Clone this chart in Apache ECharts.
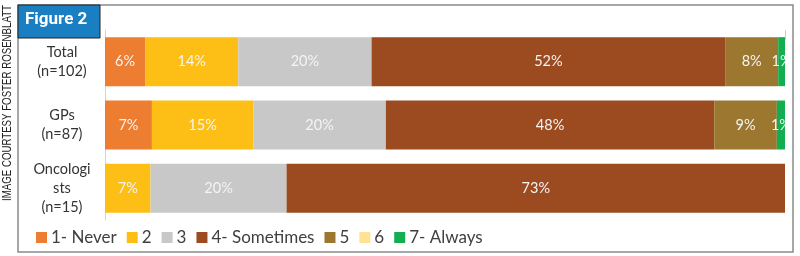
<!DOCTYPE html>
<html><head><meta charset="utf-8">
<script src="https://cdn.jsdelivr.net/npm/echarts@6/dist/echarts.min.js"></script>
<style>html,body{margin:0;padding:0;background:#fff}#c{width:800px;height:256px}</style>
</head><body><div id="c"></div>
<script>
const categories = ['Total\n(n=102)', 'GPs\n(n=87)', 'Oncologi\nsts\n(n=15)'];
const seriesNames = ['1- Never', '2', '3', '4- Sometimes', '5', '6', '7- Always'];
const never     = [5.9, 6.9, 0];
const two       = [13.7, 14.9, 6.7];
const three     = [19.6, 19.5, 20.0];
const sometimes = [52.0, 48.3, 73.3];
const five      = [7.8, 9.2, 0];
const six       = [0, 0, 0];
const always    = [1.0, 1.2, 0];
const colors = ['#ED7D31', '#FDBF16', '#C8C8C8', '#9C4A20', '#9B7730', '#FFE394', '#12AE4F'];
const values = [never, two, three, sometimes, five, six, always];
const FONT = 'Lato';

const chart = echarts.init(document.getElementById('c'));
const credit = 'IMAGE COURTESY FOSTER ROSENBLATT';
const creditFont = '12px "Liberation Sans", sans-serif';
const creditW = echarts.format.getTextRect ? echarts.format.getTextRect(credit, creditFont).width : 230;
chart.setOption({
  animation: false,
  grid: { left: 105, right: 15, top: 30, bottom: 36 },
  xAxis: { type: 'value', min: 0, max: 100, show: false },
  yAxis: {
    type: 'category', data: categories, inverse: true,
    axisLine: { show: true, lineStyle: { color: '#d4d4d4', width: 1 } },
    axisTick: { show: false },
    axisLabel: { color: '#333', fontSize: 14.5, fontFamily: FONT, align: 'center', margin: 43, lineHeight: 19 }
  },
  legend: {
    left: 31, top: 224, itemWidth: 11, itemHeight: 11, itemGap: 10, icon: 'rect',
    textStyle: { fontSize: 17, color: '#404040', fontFamily: FONT, padding: [0, 0, 0, -1] },
    data: seriesNames
  },
  series: seriesNames.map((n, i) => ({
    name: n, type: 'bar', stack: 'all', barWidth: 49,
    data: values[i],
    itemStyle: { color: colors[i] },
    label: {
      show: true, position: 'inside', color: '#f4f4f4', fontSize: 14.5, fontFamily: FONT,
      formatter: p => p.value > 0 ? Math.round(p.value) + '%' : ''
    }
  })),
  graphic: [
    { type: 'rect', z: 100, shape: { x: 786, y: 25, width: 6, height: 200 }, style: { fill: '#fff' } },
    { type: 'line', z: 100, shape: { x1: 785.5, y1: 30, x2: 785.5, y2: 40 }, style: { stroke: '#cfcfcf', lineWidth: 1 } },
    { type: 'rect', z: 101, shape: { x: 18, y: 5, width: 775, height: 247 }, style: { fill: 'none', stroke: '#8a8a8a', lineWidth: 1.5 } },
    { type: 'rect', z: 102, shape: { x: 18, y: 5, width: 82, height: 33 }, style: { fill: '#1A7EC2', stroke: '#222', lineWidth: 1 } },
    { type: 'text', z: 103, left: 25, top: 11, style: { text: 'Figure 2', fill: '#fff', font: 'bold 17px "Liberation Sans Narrow", "Roboto", sans-serif' } },
    { type: 'text', z: 103, x: 8, y: 201, rotation: Math.PI / 2, scaleX: 196 / creditW, style: { text: credit, fill: '#222', font: creditFont, align: 'left', verticalAlign: 'middle' } }
  ]
});
</script></body></html>
